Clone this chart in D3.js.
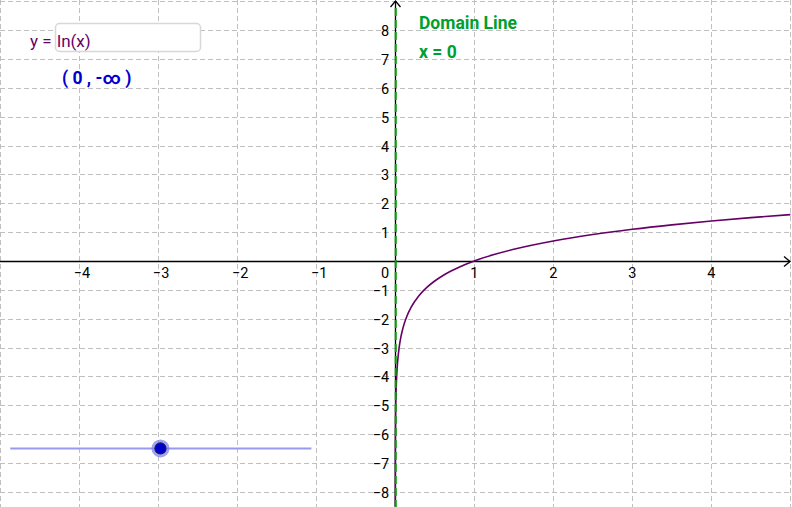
<!DOCTYPE html>
<html><head><meta charset="utf-8">
<script src="https://cdn.jsdelivr.net/npm/d3@7"></script>
<style>
body{margin:0;background:#fff;}
svg{display:block;font-family:Roboto,"DejaVu Sans",sans-serif;}
</style></head>
<body>
<svg id="c" width="792" height="507"></svg>
<script>
// ---- data ----
const xDomain = [-5, 5.02];
const yDomain = [-8.53, 9.05];
const xTicks = [-4, -3, -2, -1, 1, 2, 3, 4];
const yTicks = [-8, -7, -6, -5, -4, -3, -2, -1, 1, 2, 3, 4, 5, 6, 7, 8];
const xGrid = [-5, -4, -3, -2, -1, 1, 2, 3, 4, 5];
const yGrid = [-8, -7, -6, -5, -4, -3, -2, -1, 1, 2, 3, 4, 5, 6, 7, 8, 9];
// y = ln(x) sample points
const curveX = [0.0002, 0.0005, 0.001, 0.002, 0.005, 0.01, 0.02, 0.03, 0.05, 0.07, 0.1, 0.15, 0.2, 0.3, 0.4, 0.5, 0.6, 0.7, 0.8, 1, 1.25, 1.5, 2, 2.5, 3, 3.5, 4, 4.5, 5];
const curveY = [-8.517, -7.601, -6.908, -6.215, -5.298, -4.605, -3.912, -3.507, -2.996, -2.659, -2.303, -1.897, -1.609, -1.204, -0.916, -0.693, -0.511, -0.357, -0.223, 0, 0.223, 0.405, 0.693, 0.916, 1.099, 1.253, 1.386, 1.504, 1.609];
const domainLineX = [0];
const inputLabel = "y =";
const inputText = "ln(x)";
const limitText = "( 0 , -\u221E )";
const domainTitle = "Domain Line";
const domainEq = "x = 0";
const sliderRange = [-4.87, -1.06];
const sliderValue = [-2.97];
const sliderY = -6.5;

// ---- scales ----
const W = 792, H = 507;
const x = d3.scaleLinear().domain(xDomain).range([0, W]);
const y = d3.scaleLinear().domain(yDomain).range([H, 0]);
const svg = d3.select("#c");
const x0 = x(0), y0 = y(0);

// grid
const grid = svg.append("g").attr("stroke", "#c0c0c0").attr("stroke-width", 1).attr("stroke-dasharray", "5,3");
grid.selectAll(".vx").data(xGrid).join("line")
  .attr("x1", d => Math.round(x(d)) + 0.5).attr("x2", d => Math.round(x(d)) + 0.5)
  .attr("y1", 0).attr("y2", H);
grid.selectAll(".hy").data(yGrid).join("line")
  .attr("y1", d => Math.round(y(d)) + 0.5).attr("y2", d => Math.round(y(d)) + 0.5)
  .attr("x1", 0).attr("x2", W);

// axes
const ax = svg.append("g").attr("stroke", "#000").attr("stroke-width", 1.3).attr("fill", "none");
const yx = Math.round(x0) + 0.5, xy = Math.round(y0) + 0.5;
ax.append("line").attr("x1", 0).attr("x2", W - 2).attr("y1", xy).attr("y2", xy);
ax.append("path").attr("d", `M${W-8},${xy-5}L${W-2},${xy}L${W-8},${xy+5}`);
ax.append("line").attr("x1", yx).attr("x2", yx).attr("y1", 1).attr("y2", H);
ax.append("path").attr("d", `M${yx-5},${7}L${yx},${1}L${yx+5},${7}`);

// tick labels
const lab = svg.append("g").attr("font-size", 14.5).attr("fill", "#000");
lab.selectAll(".xl").data(xTicks).join("text")
  .attr("x", d => x(d) + (d < 0 ? 3 : 0)).attr("y", y0 + 17)
  .attr("text-anchor", "middle")
  .text(d => d < 0 ? "\u2212" + Math.abs(d) : d);
lab.append("text").attr("x", x0 - 6).attr("y", y0 + 17).attr("text-anchor", "end").text("0");
lab.selectAll(".yl").data(yTicks).join("text")
  .attr("x", x0 - 6).attr("y", d => y(d) + 6)
  .attr("text-anchor", "end")
  .text(d => d < 0 ? "\u2212" + Math.abs(d) : d);

// curve
const pts = curveX.map((v, i) => [v, curveY[i]]);
svg.append("path").datum(pts)
  .attr("fill", "none").attr("stroke", "#660066").attr("stroke-width", 1.6)
  .attr("d", d3.line().x(d => x(d[0])).y(d => y(d[1])).curve(d3.curveMonotoneX));

// domain line x = 0
svg.selectAll(".dl").data(domainLineX).join("line")
  .attr("x1", d => x(d) + 0.5).attr("x2", d => x(d) + 0.5)
  .attr("y1", 8).attr("y2", H)
  .attr("stroke", "#00a000").attr("stroke-width", 2).attr("stroke-dasharray", "8,4");

// input box
svg.append("text").attr("x", 30).attr("y", 47).attr("font-size", 17).attr("fill", "#660066").text(inputLabel);
svg.append("rect").attr("x", 55.5).attr("y", 23.5).attr("width", 145).attr("height", 28).attr("rx", 4)
  .attr("fill", "#fff").attr("stroke", "#d8d8d8").attr("stroke-width", 1.5);
svg.append("text").attr("x", 57).attr("y", 47).attr("font-size", 17).attr("fill", "#660066").text(inputText);

// limit text
svg.append("text").attr("x", 62).attr("y", 84).attr("font-size", 17.5).attr("font-weight", "bold")
  .attr("fill", "#0000cc").text(limitText);

// domain labels
svg.append("text").attr("x", 419).attr("y", 29).attr("font-size", 17.5).attr("font-weight", "bold")
  .attr("fill", "#00a030").text(domainTitle);
svg.append("text").attr("x", 419).attr("y", 58).attr("font-size", 17.5).attr("font-weight", "bold")
  .attr("fill", "#00a030").text(domainEq);

// slider
svg.append("line").attr("x1", x(sliderRange[0])).attr("x2", x(sliderRange[1]))
  .attr("y1", y(sliderY)).attr("y2", y(sliderY))
  .attr("stroke", "#9999ee").attr("stroke-width", 2);
svg.selectAll(".sh").data(sliderValue).join("circle")
  .attr("cx", d => x(d)).attr("cy", y(sliderY)).attr("r", 9)
  .attr("fill", "#7a7aee").attr("opacity", 0.7);
svg.selectAll(".sp").data(sliderValue).join("circle")
  .attr("cx", d => x(d)).attr("cy", y(sliderY)).attr("r", 5.5)
  .attr("fill", "#0000cc").attr("stroke", "#1a1a40").attr("stroke-width", 1.2);
</script>
</body></html>
